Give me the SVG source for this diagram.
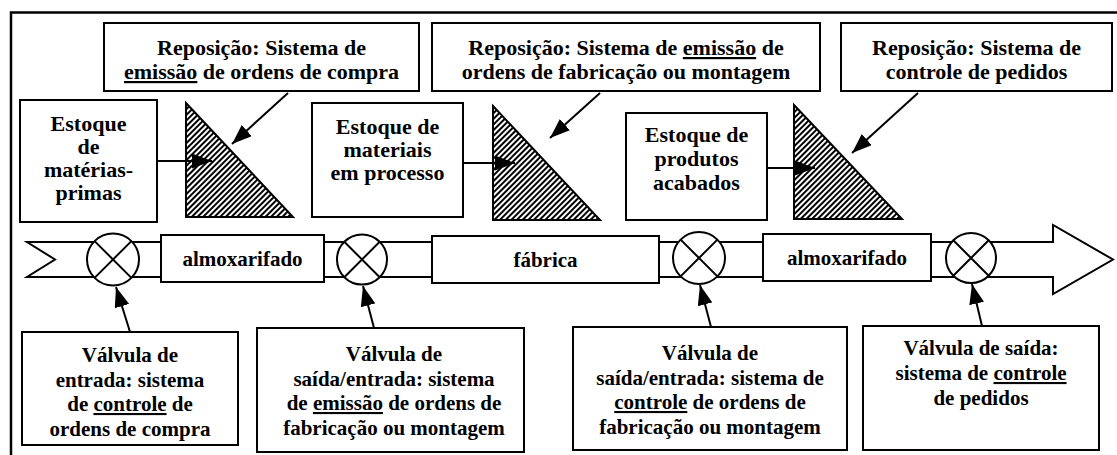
<svg xmlns="http://www.w3.org/2000/svg" width="1117" height="455" viewBox="0 0 1117 455">
<style>
.box{fill:#fff;stroke:#000;stroke-width:2}
.t{font-family:"Liberation Serif","Times New Roman",serif;font-weight:bold;font-size:21px;fill:#000;text-anchor:middle}
.tt{font-size:22px}
.u{text-decoration:underline}
.con{stroke:#000;stroke-width:2;fill:none;marker-end:url(#ah)}
.valve{fill:#fff;stroke:#000;stroke-width:2}
.x{stroke:#000;stroke-width:2}
.tri{fill:url(#hatch);stroke:#000;stroke-width:2}
</style>
<defs>
<pattern id="hatch" patternUnits="userSpaceOnUse" width="4" height="4" patternTransform="rotate(45)">
<rect width="4" height="4" fill="#fff"/>
<rect width="2" height="4" fill="#000"/>
</pattern>
<marker id="ah" viewBox="0 0 20 15" refX="20" refY="7.5" markerWidth="20" markerHeight="15" markerUnits="userSpaceOnUse" orient="auto">
<path d="M0,0 L20,7.5 L0,15 z" fill="#000"/>
</marker>
</defs>
<rect x="11" y="12.5" width="1130" height="470" fill="none" stroke="#000" stroke-width="2.5"/>

<g id="flow">
<path d="M27,242 L1053,242 L1053,225 L1113,259.5 L1053,294 L1053,277 L27,277 L55,259.5 Z" fill="#fff" stroke="#000" stroke-width="2"/>
</g>

<g id="repos1">
<rect class="box" x="104" y="23" width="315" height="68"/>
<text class="t tt" x="261.5" y="55">Reposição: Sistema de</text>
<text class="t tt" x="261.5" y="79"><tspan class="u">emissão</tspan> de ordens de compra</text>
</g>
<g id="repos2">
<rect class="box" x="432" y="23" width="388" height="68"/>
<text class="t tt" x="626" y="55">Reposição: Sistema de <tspan class="u">emissão</tspan> de</text>
<text class="t tt" x="626" y="79">ordens de fabricação ou montagem</text>
</g>
<g id="repos3">
<rect class="box" x="841" y="23" width="271" height="68"/>
<text class="t tt" x="976.5" y="55">Reposição: Sistema de</text>
<text class="t tt" x="976.5" y="79">controle de pedidos</text>
</g>

<g id="estoque1">
<rect class="box" x="20" y="100" width="137" height="122"/>
<text class="t tt" x="88.5" y="131">Estoque</text>
<text class="t tt" x="88.5" y="154">de</text>
<text class="t tt" x="88.5" y="177">matérias-</text>
<text class="t tt" x="88.5" y="200">primas</text>
</g>
<g id="estoque2">
<rect class="box" x="312" y="103" width="151" height="114"/>
<text class="t tt" x="387.5" y="134">Estoque de</text>
<text class="t tt" x="387.5" y="157">materiais</text>
<text class="t tt" x="387.5" y="180">em processo</text>
</g>
<g id="estoque3">
<rect class="box" x="626" y="113" width="141" height="107"/>
<text class="t tt" x="696.5" y="142">Estoque de</text>
<text class="t tt" x="696.5" y="166">produtos</text>
<text class="t tt" x="696.5" y="190">acabados</text>
</g>

<g id="tri1"><path class="tri" d="M186,103 L293,217 L186,217 Z"/></g>
<g id="tri2"><path class="tri" d="M493,106 L600,220 L493,220 Z"/></g>
<g id="tri3"><path class="tri" d="M794,105 L902,219 L794,219 Z"/></g>

<g id="almox1">
<rect class="box" x="161" y="235" width="163" height="47"/>
<text class="t" x="242.5" y="266">almoxarifado</text>
</g>
<g id="fabrica">
<rect class="box" x="432" y="236" width="227" height="47"/>
<text class="t" x="545.5" y="267">fábrica</text>
</g>
<g id="almox2">
<rect class="box" x="763" y="234" width="168" height="47"/>
<text class="t" x="847" y="265">almoxarifado</text>
</g>

<g id="valve1"><circle class="valve" cx="113" cy="259.5" r="26"/><path class="x" d="M94.6,241.1 L131.4,277.9 M131.4,241.1 L94.6,277.9"/></g>
<g id="valve2"><circle class="valve" cx="362" cy="259.5" r="25"/><path class="x" d="M344.3,241.8 L379.7,277.2 M379.7,241.8 L344.3,277.2"/></g>
<g id="valve3"><circle class="valve" cx="699" cy="258" r="26"/><path class="x" d="M680.6,239.6 L717.4,276.4 M717.4,239.6 L680.6,276.4"/></g>
<g id="valve4"><circle class="valve" cx="971" cy="258" r="25"/><path class="x" d="M953.3,240.3 L988.7,275.7 M988.7,240.3 L953.3,275.7"/></g>

<g id="valv1box">
<rect class="box" x="22" y="332" width="216" height="113"/>
<text class="t" x="130" y="362">Válvula de</text>
<text class="t" x="130" y="387">entrada: sistema</text>
<text class="t" x="130" y="411">de <tspan class="u">controle</tspan> de</text>
<text class="t" x="130" y="436">ordens de compra</text>
</g>
<g id="valv2box">
<rect class="box" x="257" y="328" width="267" height="124"/>
<text class="t" x="394" y="361">Válvula de</text>
<text class="t" x="394" y="386">saída/entrada: sistema</text>
<text class="t" x="394" y="410">de <tspan class="u">emissão</tspan> de ordens de</text>
<text class="t" x="394" y="435">fabricação ou montagem</text>
</g>
<g id="valv3box">
<rect class="box" x="573" y="327" width="274" height="123"/>
<text class="t" x="710" y="360">Válvula de</text>
<text class="t" x="710" y="385">saída/entrada: sistema de</text>
<text class="t" x="710" y="409"><tspan class="u">controle</tspan> de ordens de</text>
<text class="t" x="710" y="434">fabricação ou montagem</text>
</g>
<g id="valv4box">
<rect class="box" x="863" y="326" width="236" height="124"/>
<text class="t" x="981" y="355">Válvula de saída:</text>
<text class="t" x="981" y="380">sistema de <tspan class="u">controle</tspan></text>
<text class="t" x="981" y="405">de pedidos</text>
</g>

<g id="connectors">
<line class="con" x1="157" y1="161" x2="212" y2="161"/>
<line class="con" x1="463" y1="163" x2="515" y2="163"/>
<line class="con" x1="767" y1="168" x2="815" y2="168"/>
<line class="con" x1="288" y1="93" x2="232" y2="144"/>
<line class="con" x1="600" y1="93" x2="550" y2="138"/>
<line class="con" x1="918" y1="93" x2="852" y2="153"/>
<line class="con" x1="130" y1="332" x2="116" y2="287"/>
<line class="con" x1="374" y1="328" x2="363" y2="286"/>
<line class="con" x1="711" y1="327" x2="700" y2="285"/>
<line class="con" x1="982" y1="326" x2="972" y2="284"/>
</g>
</svg>
